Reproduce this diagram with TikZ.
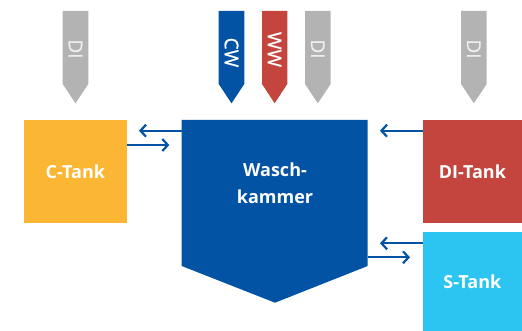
\documentclass[tikz,border=0pt]{standalone}
\usepackage{fontspec}
\setmainfont{Open Sans}
\newfontfamily\pencilfont{Open Sans}[FakeBold=0.8]
\usetikzlibrary{arrows.meta}
\definecolor{mblue}{HTML}{0353A4}
\definecolor{mgray}{HTML}{B2B3B2}
\definecolor{mred}{HTML}{C4453D}
\definecolor{morange}{HTML}{FBB634}
\definecolor{mcyan}{HTML}{2CC5F2}
\definecolor{ltext}{HTML}{EEEEEE}
\tikzset{
  tank/.style={fill=#1, draw=none, text=white, inner sep=0pt, font=\fontsize{18}{27}\selectfont\bfseries, align=center},
  plabel/.style={rotate=-90, text=#1, inner sep=0pt, font=\pencilfont\fontsize{19}{22}\selectfont},
  pencil/.style={fill=#1, draw=none},
  arr/.style={draw=mblue, line width=2.2pt, -{Straight Barb[length=5.5pt,width=12pt,line width=2.2pt]}}
}
\begin{document}
\begin{tikzpicture}[x=1pt,y=-1pt]
\useasboundingbox (0,0) rectangle (522,331);
% pencils
\def\pencil#1#2#3{\fill[pencil=#3] (#1,11) -- (#2,11) -- (#2,84) -- ({(#1+#2)/2},103.3) -- (#1,84) -- cycle;}
\pencil{62.7}{88.3}{mgray}
\pencil{218.7}{244.3}{mblue}
\pencil{262}{287.3}{mred}
\pencil{305}{330.7}{mgray}
\pencil{461}{486.7}{mgray}
\node[plabel=ltext] (di1) at (75.5,49) {DI};
\node[plabel=white] (cw) at (231.5,52.5) {CW};
\node[plabel=white] (ww) at (274.6,49.5) {WW};
\node[plabel=ltext] (di2) at (317.8,49) {DI};
\node[plabel=ltext] (di3) at (473.8,49) {DI};
% tanks
\node[tank=morange, minimum width=102.7pt, minimum height=102.7pt] (ctank) at (75.35,171.35) {C-Tank};
\node[tank=mred, minimum width=99.3pt, minimum height=102.7pt] (ditank) at (472.35,171.35) {DI-Tank};
\node[tank=mcyan, minimum width=99.3pt, minimum height=98.7pt] (stank) at (472.35,281.65) {S-Tank};
% wash chamber
\fill[mblue] (181.7,120) -- (367.7,120) -- (367.7,266) -- (275,302.7) -- (181.7,266) -- cycle;
\node[inner sep=0pt, minimum width=186pt, minimum height=146pt] (wasch) at (274.7,193) {};
\node[tank=mblue, fill=none] (waschlabel) at (275,183) {Wasch-\\kammer};
% connectors
\coordinate (e1) at (139,130.7);
\coordinate (e2) at (169.3,145);
\coordinate (e3) at (380,130.7);
\coordinate (e4) at (380,243.3);
\coordinate (e5) at (410,257.3);
\draw[arr] (wasch.west |- e1) -- (e1);
\draw[arr] (ctank.east |- e2) -- (e2);
\draw[arr] (ditank.west |- e3) -- (e3);
\draw[arr] (stank.west |- e4) -- (e4);
\draw[arr] (wasch.east |- e5) -- (e5);
\end{tikzpicture}
\end{document}
